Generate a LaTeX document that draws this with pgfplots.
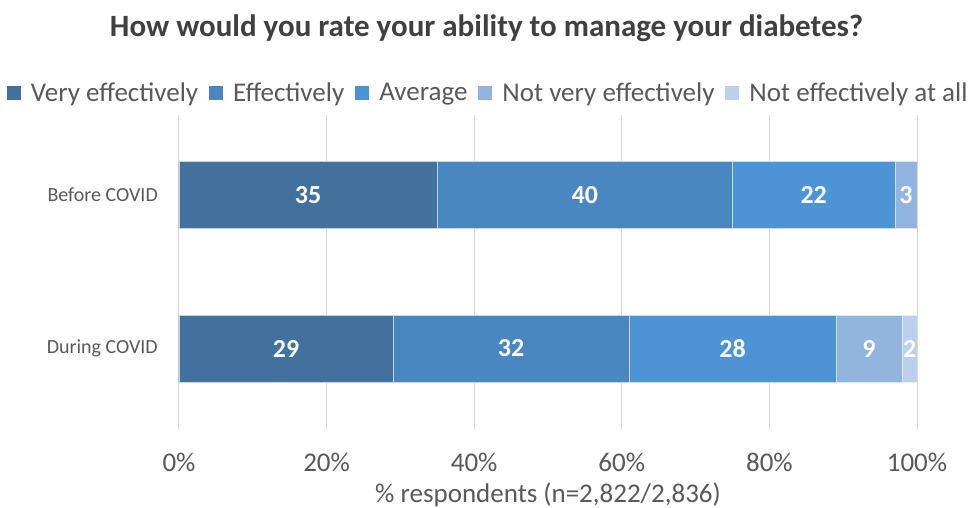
\documentclass[border=0pt]{standalone}
\usepackage{pgfplots}
\pgfplotsset{compat=1.18}
\usepackage{fontspec}
\setmainfont{Carlito}
\definecolor{c1}{HTML}{41719C}
\definecolor{c2}{HTML}{4A86C0}
\definecolor{c3}{HTML}{4D94D6}
\definecolor{c4}{HTML}{92B5E0}
\definecolor{c5}{HTML}{BCD0EE}
\definecolor{txt}{HTML}{595959}
\definecolor{ttl}{HTML}{404040}
\definecolor{gridc}{HTML}{D9D9D9}
\begin{document}
\begin{tikzpicture}
\useasboundingbox (-179pt,-78pt) rectangle (792pt,430pt);
\begin{axis}[
  at={(0,0)}, anchor=south west,
  scale only axis, width=738pt, height=315pt,
  xbar stacked, bar width=67pt,
  xmin=0, xmax=100, ymin=-0.53, ymax=1.52,
  ytick={0,1}, yticklabels={During COVID, Before COVID},
  xtick={0,20,...,100}, xticklabels={0\%,20\%,40\%,60\%,80\%,100\%},
  xmajorgrids, grid style={gridc, line width=1pt},
  axis line style={draw=none}, major tick length=0pt,
  xticklabel style={font=\fontsize{27}{27}\selectfont, text=txt, anchor=center, yshift=-32pt},
  yticklabel style={font=\fontsize{20}{20}\selectfont, text=txt, anchor=east, inner sep=0pt, xshift=-21pt},
  xlabel={\% respondents (n=2,822/2,836)},
  xlabel style={font=\fontsize{27}{27}\selectfont, text=txt, at={(axis description cs:0.5,-0.206)}, anchor=center},
  title={How would you rate your ability to manage your diabetes?},
  title style={font=\fontsize{31}{31}\bfseries\selectfont, text=ttl, at={(axis description cs:0.4167,1.257)}, anchor=center},
  point meta=explicit symbolic,
  nodes near coords={\ifnum\pgfplotspointmeta=0\else\pgfplotspointmeta\fi},
  every node near coord/.append style={anchor=center,
    font=\fontsize{26}{26}\bfseries\selectfont, text=white},
  legend columns=5,
  legend style={at={(0.419,1.07)}, anchor=center, draw=none, fill=none,
    font=\fontsize{27}{27}\selectfont, text=txt,
    /tikz/every odd column/.append style={column sep=8pt},
    /tikz/every even column/.append style={column sep=9pt}},
  legend image code/.code={\path[#1,draw=none] (0pt,-7pt) rectangle (14pt,7pt);},
]
\addplot[fill=c1, draw=white!70!c1] coordinates {(29,0) [29] (35,1) [35]};
\addplot[fill=c2, draw=white!70!c2] coordinates {(32,0) [32] (40,1) [40]};
\addplot[fill=c3, draw=white!70!c3] coordinates {(28,0) [28] (22,1) [22]};
\addplot[fill=c4, draw=white!70!c4] coordinates {(9,0) [9] (3,1) [3]};
\addplot[fill=c5, draw=white!70!c5] coordinates {(2,0) [2] (0,1) [0]};
\legend{Very effectively, Effectively, Average, Not very effectively, Not effectively at all}
\end{axis}
\end{tikzpicture}
\end{document}
